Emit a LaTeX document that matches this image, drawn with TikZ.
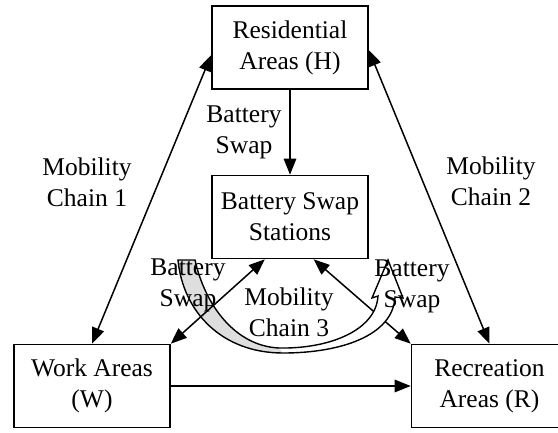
\documentclass[tikz,border=0pt]{standalone}
\usepackage{fontspec}
\setmainfont{Liberation Serif}
\usetikzlibrary{arrows.meta,calc}

\tikzset{
  area/.style={draw, line width=1.6pt, minimum width=156pt, minimum height=83pt,
    align=center, inner sep=0pt, font=\fontsize{25.5}{31}\selectfont},
  lbl/.style={align=center, inner sep=0pt, font=\fontsize{25.5}{31}\selectfont},
  tip/.style={Triangle[length=16pt,width=12.5pt]},
  link/.style={line width=1.5pt, -{Triangle[length=16pt,width=12.5pt]}},
  dlink/.style={line width=1.5pt, {Triangle[length=16pt,width=12.5pt]}-{Triangle[length=16pt,width=12.5pt]}},
  ribbonback/.style={fill=black!13}
}

\begin{document}
\begin{tikzpicture}[x=1pt,y=-1pt]
\useasboundingbox (0,0) rectangle (558,432);
\clip (0,0) rectangle (558,432);

% boxes
\node[area] (H) at (290,47.5) {Residential\\Areas (H)};
\node[area] (S) at (290,217) {Battery Swap\\Stations};
\node[area] (W) at (92,386) {Work Areas\\(W)};
\node[area] (R) at (489.5,386) {Recreation\\Areas (R)};

% points on the box borders
\coordinate (Hw) at ($(H.north west)!0.59!(H.south west)$);
\coordinate (He) at ($(H.north east)!0.53!(H.south east)$);
\coordinate (Sl) at ($(S.south west)!0.34!(S.south east)$);
\coordinate (Sr) at ($(S.south west)!0.65!(S.south east)$);

% stations <-> recreation runs behind the ribbon
\draw[dlink] (Sr) -- (R.north west);

% curved ribbon arrow (mobility chain 3)
\coordinate (ca1) at (178,260);
\coordinate (ca2) at (195,260);
\coordinate (cb1) at (283,353);
\coordinate (cb2) at (279,348);
\coordinate (cc1) at (395,297);
\coordinate (cc2) at (378,296);
\coordinate (cl) at (372,298);
\coordinate (ct) at (388,260);
\coordinate (cr) at (403,298);
\fill[white] (ca1) -- (ca2) .. controls (205,305) and (235,346) .. (cb2)
  .. controls (330,349) and (376,330) .. (cc2) -- (cl) -- (ct) -- (cr) -- (cc1)
  .. controls (393,336) and (340,353) .. (cb1)
  .. controls (222,353) and (183,312) .. (ca1) -- cycle;
\fill[ribbonback] (ca1) -- (ca2) .. controls (205,305) and (235,346) .. (cb2)
  -- (cb1) .. controls (222,353) and (183,312) .. (ca1) -- cycle;
\draw[line width=1.4pt, line join=miter] (ca1) -- (ca2) .. controls (205,305) and (235,346) .. (cb2)
  .. controls (330,349) and (376,330) .. (cc2) -- (cl) -- (ct) -- (cr) -- (cc1)
  .. controls (393,336) and (340,353) .. (cb1)
  .. controls (222,353) and (183,312) .. (ca1) -- cycle;

% connectors
\draw[dlink] (Hw) -- (W.north);
\draw[dlink] (He) -- (R.north);
\draw[link] (H.south) -- (S.north);
\draw[link] (W.east) -- (R.west);
\draw[dlink] (Sl) -- (W.north east);

% labels
\node[lbl] (l1) at (244,132.5) {Battery\\Swap};
\node[lbl] (l2) at (87,182.5) {Mobility\\Chain 1};
\node[lbl] (l3) at (491,181) {Mobility\\Chain 2};
\node[lbl] (l4) at (188,285) {Battery\\Swap};
\node[lbl] (l5) at (289,312.5) {Mobility\\Chain 3};
\node[lbl] (l6) at (412,286) {Battery\\Swap};
\end{tikzpicture}
\end{document}
